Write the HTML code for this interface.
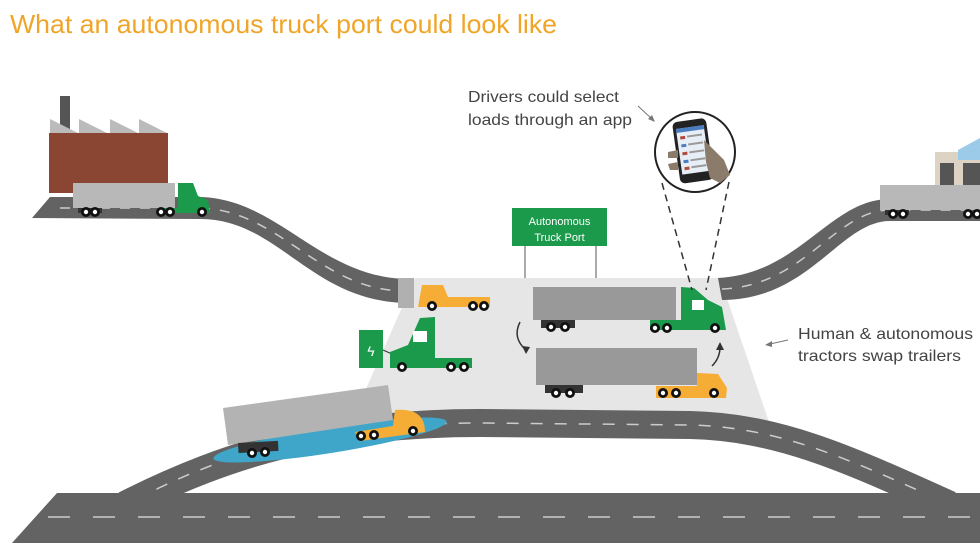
<!DOCTYPE html>
<html><head><meta charset="utf-8"><style>
html,body{margin:0;padding:0;background:#fff;}
svg{display:block;}
text{font-family:"Liberation Sans",sans-serif;}
</style></head><body>
<svg width="980" height="552" viewBox="0 0 980 552" xmlns="http://www.w3.org/2000/svg">
<defs>
<g id="wh"><circle r="5" fill="#111"/><circle r="2.2" fill="#fff"/></g>
</defs>
<text x="10" y="33" font-size="26" fill="#f0a528" textLength="547" lengthAdjust="spacingAndGlyphs">What an autonomous truck port could look like</text>

<polygon points="415,278 720,278 770,425 350,425" fill="#e6e6e6"/>

<rect x="60" y="96" width="10" height="34" fill="#555"/>
<polygon points="50,133 50,119 78,133" fill="#bbb"/>
<polygon points="79,133 79,119 107,133" fill="#bbb"/>
<polygon points="110,133 110,119 138,133" fill="#bbb"/>
<polygon points="139,133 139,119 167,133" fill="#bbb"/>
<rect x="49" y="133" width="119" height="60" fill="#8b4533"/>

<rect x="935" y="152" width="45" height="40" fill="#ddd3c4"/>
<rect x="940" y="163" width="14" height="24" fill="#555"/>
<polygon points="958,150 980,138 980,160 958,160" fill="#9ccbea"/>
<rect x="963" y="163" width="17" height="24" fill="#555"/>

<path d="M32,218 L50,197 L200,197 C280,199 320,279 410,279 L410,303 C310,303 280,219 200,219 Z" fill="#636363"/>
<path d="M60,208 L200,208 C280,210 320,291 405,291" fill="none" stroke="#ccc" stroke-width="1.5" stroke-dasharray="10 10"/>
<rect x="398" y="278" width="16" height="30" fill="#b0b0b0"/>
<path d="M718,278 C800,274 830,199 890,199 L980,199 L980,221 L890,221 C840,221 810,300 722,300 Z" fill="#636363"/>
<path d="M722,289 C805,286 835,210 890,210 L980,210" fill="none" stroke="#ccc" stroke-width="1.5" stroke-dasharray="10 10"/>

<path d="M125,505 C230,452 330,423 480,423 L690,425 C780,427 850,460 950,505" fill="none" stroke="#636363" stroke-width="28"/>
<path d="M135,500 C230,450 330,423 480,423 L690,425 C780,427 850,460 940,500" fill="none" stroke="#ccc" stroke-width="1.5" stroke-dasharray="12 12"/>

<polygon points="12,543 57,493 980,493 980,543" fill="#636363"/>
<line x1="48" y1="517" x2="980" y2="517" stroke="#ccc" stroke-width="1.5" stroke-dasharray="22 23"/>

<rect x="73" y="183" width="102" height="25" fill="#b8b8b8"/>
<rect x="78" y="208" width="24" height="5" fill="#333"/>
<use href="#wh" x="86" y="212"/><use href="#wh" x="95" y="212"/>
<path d="M178,183 L193,183 L198,196 L208,200 L210,213 L162,213 L162,208 L178,208 Z" fill="#1a9a4a"/>
<use href="#wh" x="161" y="212"/><use href="#wh" x="170" y="212"/><use href="#wh" x="202" y="212"/>

<rect x="880" y="185" width="100" height="25" fill="#b8b8b8"/>
<rect x="885" y="210" width="24" height="5" fill="#333"/>
<use href="#wh" x="893" y="214"/><use href="#wh" x="903" y="214"/>
<use href="#wh" x="968" y="214"/><use href="#wh" x="977" y="214"/>

<line x1="525" y1="246" x2="525" y2="278" stroke="#aaa" stroke-width="2"/>
<line x1="596" y1="246" x2="596" y2="278" stroke="#aaa" stroke-width="2"/>
<rect x="512" y="208" width="95" height="38" fill="#1a9a4a"/>
<text x="559.5" y="225" font-size="11" fill="#fff" text-anchor="middle">Autonomous</text>
<text x="559.5" y="241" font-size="11" fill="#fff" text-anchor="middle">Truck Port</text>

<path d="M422,285 L443,285 L448,297 L490,297 L490,307 L418,307 Z" fill="#f6ad35"/>
<use href="#wh" x="432" y="306"/><use href="#wh" x="473" y="306"/><use href="#wh" x="484" y="306"/>

<rect x="533" y="287" width="143" height="33" fill="#999"/>
<rect x="541" y="320" width="34" height="8" fill="#333"/>
<use href="#wh" x="551" y="327"/><use href="#wh" x="565" y="327"/>
<path d="M681,287 L694,288 L708,300 L722,307 L726,330 L650,330 L650,320 L681,320 Z" fill="#1a9a4a"/>
<rect x="692" y="300" width="12" height="10" fill="#fff"/>
<use href="#wh" x="655" y="328"/><use href="#wh" x="667" y="328"/><use href="#wh" x="715" y="328"/>

<rect x="536" y="348" width="161" height="37" fill="#999"/>
<rect x="545" y="385" width="38" height="8" fill="#333"/>
<use href="#wh" x="556" y="393"/><use href="#wh" x="570" y="393"/>
<path d="M697,373 L718,374 L727,388 L726,398 L656,398 L656,386 L697,386 Z" fill="#f6ad35"/>
<use href="#wh" x="663" y="393"/><use href="#wh" x="676" y="393"/><use href="#wh" x="714" y="393"/>

<path d="M520,322 Q512,338 526,350" fill="none" stroke="#333" stroke-width="1.5"/>
<polygon points="526,354 522,346 530,347" fill="#333"/>
<path d="M712,366 Q720,358 720,347" fill="none" stroke="#333" stroke-width="1.5"/>
<polygon points="720,342 716,350 724,350" fill="#333"/>

<rect x="359" y="330" width="24" height="38" fill="#1a9a4a"/>
<text x="371" y="356" font-size="14" fill="#fff" text-anchor="middle">ϟ</text>
<line x1="383" y1="350" x2="392" y2="354" stroke="#333" stroke-width="1"/>
<path d="M420,318 L435,317 L435,358 L472,358 L472,368 L390,368 L390,352 L408,345 Z" fill="#1a9a4a"/>
<rect x="413" y="331" width="14" height="11" fill="#fff"/>
<use href="#wh" x="402" y="367"/><use href="#wh" x="451" y="367"/><use href="#wh" x="464" y="367"/>

<ellipse cx="330" cy="440" rx="118" ry="13" transform="rotate(-9 330 440)" fill="#3fa6c9"/>
<polygon points="223,408 388,385 393,420 228,445" fill="#b3b3b3"/>
<rect x="238" y="443" width="40" height="10" fill="#333" transform="rotate(-3 238 443)"/>
<use href="#wh" x="252" y="453"/><use href="#wh" x="265" y="452"/>
<path d="M395,410 C420,408 425,420 425,432 L360,441 L355,432 L393,426 Z" fill="#f6ad35"/>
<use href="#wh" x="361" y="436"/><use href="#wh" x="374" y="435"/><use href="#wh" x="413" y="431"/>

<line x1="662" y1="183" x2="692" y2="290" stroke="#333" stroke-width="1.5" stroke-dasharray="7 5"/>
<line x1="729" y1="182" x2="706" y2="290" stroke="#333" stroke-width="1.5" stroke-dasharray="7 5"/>
<circle cx="695" cy="152" r="40" fill="#fff" stroke="#222" stroke-width="2"/>
<g transform="rotate(-8 692 150)">
<rect x="676" y="120" width="34" height="62" rx="5" fill="#222"/>
<rect x="679" y="127" width="28" height="46" fill="#e8eef5"/>
<rect x="679" y="127" width="28" height="4" fill="#4a7cc0"/>
<rect x="682" y="135" width="5" height="3" fill="#b04a3a"/><rect x="689" y="135" width="15" height="2" fill="#999"/>
<rect x="682" y="143" width="5" height="3" fill="#4a7cc0"/><rect x="689" y="143" width="15" height="2" fill="#999"/>
<rect x="682" y="151" width="5" height="3" fill="#b04a3a"/><rect x="689" y="151" width="15" height="2" fill="#999"/>
<rect x="682" y="159" width="5" height="3" fill="#4a7cc0"/><rect x="689" y="159" width="15" height="2" fill="#999"/>
<rect x="682" y="166" width="5" height="3" fill="#b04a3a"/><rect x="689" y="166" width="15" height="2" fill="#999"/>
</g>
<path d="M704,140 L714,150 L724,160 L730,175 L720,183 L710,178 L706,162 Z" fill="#8a7b6a"/>
<path d="M668,152 L678,150 L678,158 L668,158 Z M668,164 L678,162 L678,170 L670,170 Z" fill="#8a7b6a"/>

<text x="468" y="102" font-size="16" fill="#444" textLength="151" lengthAdjust="spacingAndGlyphs">Drivers could select</text>
<text x="468" y="125" font-size="16" fill="#444" textLength="164" lengthAdjust="spacingAndGlyphs">loads through an app</text>
<line x1="638" y1="106" x2="652" y2="119" stroke="#777" stroke-width="1"/>
<polygon points="655,122 648,119 652,115" fill="#777"/>
<text x="798" y="339" font-size="16" fill="#444" textLength="175" lengthAdjust="spacingAndGlyphs">Human &amp; autonomous</text>
<text x="798" y="361" font-size="16" fill="#444" textLength="163" lengthAdjust="spacingAndGlyphs">tractors swap trailers</text>
<line x1="788" y1="340" x2="770" y2="344" stroke="#777" stroke-width="1"/>
<polygon points="765,345 772,341 772,347" fill="#777"/>
</svg>
</body></html>
